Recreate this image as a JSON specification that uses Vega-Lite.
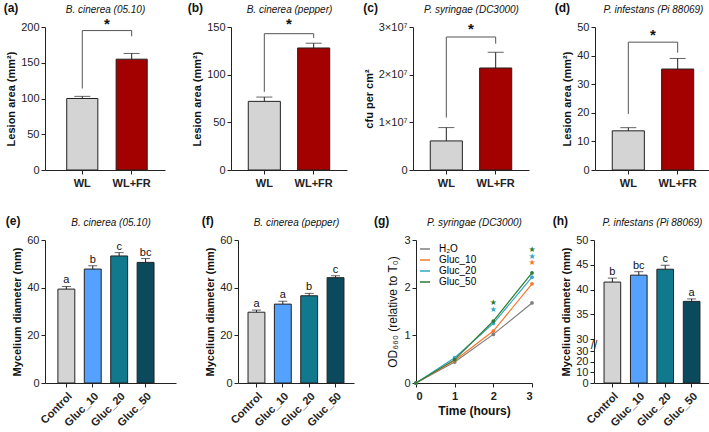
{
"$schema":"https://vega.github.io/schema/vega-lite/v6.json",
"padding":{"left":3,"top":2,"right":0,"bottom":0},
"config":{
 "font":"Liberation Sans",
 "view":{"stroke":null},
 "axis":{"grid":false,"domainColor":"#222","tickColor":"#222","labelColor":"#222","titleColor":"#111","labelFontSize":11,"titleFontSize":11,"titleFontWeight":"bold","tickSize":4,"labelPadding":2,"titlePadding":4,"labelOverlap":false},
 "axisX":{"labelFontWeight":"bold","labelPadding":3},
 "title":{"fontSize":12,"fontWeight":"bold","anchor":"start","frame":"bounds","offset":-11,"color":"#111"}
},
"resolve":{"scale":{"color":"independent"}},
"vconcat":[
{"resolve":{"scale":{"color":"independent"}},"hconcat":[
 {"width":120,"height":143,
  "title":{"text":"(a)","dx":-2},
  "resolve":{"axis":{"x":"independent","y":"independent"}},
  "data":{"values":[{"g":"WL","v":100,"hi":103},{"g":"WL+FR","v":155,"hi":163}]},
  "layer":[
   {"mark":{"type":"bar","stroke":"#222","strokeWidth":1},
    "encoding":{
     "x":{"field":"g","type":"nominal","scale":{"paddingInner":0.37,"paddingOuter":0.4,"align":0.55},"axis":{"title":null,"labelAngle":0}},
     "y":{"field":"v","type":"quantitative","scale":{"domain":[0,200],"nice":false},"axis":{"values":[0,50,100,150,200],"tickCount":20,"format":"d","title":"Lesion area (mm²)"}},
     "color":{"field":"g","type":"nominal","scale":{"domain":["WL","WL+FR"],"range":["#d4d4d4","#a30000"]},"legend":null}}},
   {"mark":{"type":"rule","color":"#222"},
    "encoding":{"x":{"field":"g","type":"nominal","axis":null},"y":{"field":"v","type":"quantitative","axis":null},"y2":{"field":"hi"}}},
   {"mark":{"type":"tick","color":"#222","size":16,"thickness":1},
    "encoding":{"x":{"field":"g","type":"nominal","axis":null},"y":{"field":"hi","type":"quantitative","axis":null}}},
   {"data":{"values":[{"g":"WL","v":114,"i":1},{"g":"WL","v":195,"i":2},{"g":"WL+FR","v":195,"i":3},{"g":"WL+FR","v":187,"i":4}]},
    "mark":{"type":"line","color":"#555","strokeWidth":1},
    "encoding":{"x":{"field":"g","type":"nominal","axis":{"orient":"top","title":"B. cinerea (05.10)","labels":false,"ticks":false,"domain":false,"titleFontStyle":"italic","titleFontWeight":"normal","titleFontSize":10,"titlePadding":13}},"y":{"field":"v","type":"quantitative","axis":null},"order":{"field":"i"}}},
   {"data":{"values":[{"g":"WL","v":204,"s":"*"}]},
    "mark":{"type":"text","fontSize":15,"fontWeight":"bold","baseline":"middle","color":"#111"},
    "encoding":{"x":{"field":"g","type":"nominal","bandPosition":1.29,"axis":null},"y":{"field":"v","type":"quantitative","axis":null},"text":{"field":"s"}}}
  ]},
 {"width":116,"height":143,
  "title":{"text":"(b)","dx":-4},
  "resolve":{"axis":{"x":"independent","y":"independent"}},
  "data":{"values":[{"g":"WL","v":72,"hi":76.5},{"g":"WL+FR","v":128,"hi":133}]},
  "layer":[
   {"mark":{"type":"bar","stroke":"#222","strokeWidth":1},
    "encoding":{
     "x":{"field":"g","type":"nominal","scale":{"paddingInner":0.35,"paddingOuter":0.35,"align":0.5},"axis":{"title":null,"labelAngle":0}},
     "y":{"field":"v","type":"quantitative","scale":{"domain":[0,150],"nice":false},"axis":{"values":[0,50,100,150],"tickCount":20,"format":"d","title":"Lesion area (mm²)"}},
     "color":{"field":"g","type":"nominal","scale":{"domain":["WL","WL+FR"],"range":["#d4d4d4","#a30000"]},"legend":null}}},
   {"mark":{"type":"rule","color":"#222"},
    "encoding":{"x":{"field":"g","type":"nominal","axis":null},"y":{"field":"v","type":"quantitative","axis":null},"y2":{"field":"hi"}}},
   {"mark":{"type":"tick","color":"#222","size":16,"thickness":1},
    "encoding":{"x":{"field":"g","type":"nominal","axis":null},"y":{"field":"hi","type":"quantitative","axis":null}}},
   {"data":{"values":[{"g":"WL","v":82,"i":1},{"g":"WL","v":143,"i":2},{"g":"WL+FR","v":143,"i":3},{"g":"WL+FR","v":138.5,"i":4}]},
    "mark":{"type":"line","color":"#555","strokeWidth":1},
    "encoding":{"x":{"field":"g","type":"nominal","axis":{"orient":"top","title":"B. cinerea (pepper)","labels":false,"ticks":false,"domain":false,"titleFontStyle":"italic","titleFontWeight":"normal","titleFontSize":10,"titlePadding":13}},"y":{"field":"v","type":"quantitative","axis":null},"order":{"field":"i"}}},
   {"data":{"values":[{"g":"WL","v":153,"s":"*"}]},
    "mark":{"type":"text","fontSize":15,"fontWeight":"bold","baseline":"middle","color":"#111"},
    "encoding":{"x":{"field":"g","type":"nominal","bandPosition":1.27,"axis":null},"y":{"field":"v","type":"quantitative","axis":null},"text":{"field":"s"}}}
  ]},
 {"width":116,"height":143,
  "title":{"text":"(c)","dx":0},
  "resolve":{"axis":{"x":"independent","y":"independent"}},
  "data":{"values":[{"g":"WL","v":6100000,"hi":8900000},{"g":"WL+FR","v":21400000,"hi":24700000}]},
  "layer":[
   {"mark":{"type":"bar","stroke":"#222","strokeWidth":1},
    "encoding":{
     "x":{"field":"g","type":"nominal","scale":{"paddingInner":0.35,"paddingOuter":0.35,"align":0.5},"axis":{"title":null,"labelAngle":0}},
     "y":{"field":"v","type":"quantitative","scale":{"domain":[0,30000000],"nice":false},"axis":{"values":[0,10000000,20000000,30000000],"tickCount":20,"labelExpr":"datum.value == 0 ? '0' : format(datum.value/10000000,'d') + '×10⁷'","title":"cfu per cm²"}},
     "color":{"field":"g","type":"nominal","scale":{"domain":["WL","WL+FR"],"range":["#d4d4d4","#a30000"]},"legend":null}}},
   {"mark":{"type":"rule","color":"#222"},
    "encoding":{"x":{"field":"g","type":"nominal","axis":null},"y":{"field":"v","type":"quantitative","axis":null},"y2":{"field":"hi"}}},
   {"mark":{"type":"tick","color":"#222","size":16,"thickness":1},
    "encoding":{"x":{"field":"g","type":"nominal","axis":null},"y":{"field":"hi","type":"quantitative","axis":null}}},
   {"data":{"values":[{"g":"WL","v":11000000,"i":1},{"g":"WL","v":27900000,"i":2},{"g":"WL+FR","v":27900000,"i":3},{"g":"WL+FR","v":26500000,"i":4}]},
    "mark":{"type":"line","color":"#555","strokeWidth":1},
    "encoding":{"x":{"field":"g","type":"nominal","axis":{"orient":"top","title":"P. syringae (DC3000)","labels":false,"ticks":false,"domain":false,"titleFontStyle":"italic","titleFontWeight":"normal","titleFontSize":10,"titlePadding":13}},"y":{"field":"v","type":"quantitative","axis":null},"order":{"field":"i"}}},
   {"data":{"values":[{"g":"WL","v":29600000,"s":"*"}]},
    "mark":{"type":"text","fontSize":15,"fontWeight":"bold","baseline":"middle","color":"#111"},
    "encoding":{"x":{"field":"g","type":"nominal","bandPosition":1.27,"axis":null},"y":{"field":"v","type":"quantitative","axis":null},"text":{"field":"s"}}}
  ]},
 {"width":116,"height":143,
  "title":{"text":"(d)","dx":-7},
  "resolve":{"axis":{"x":"independent","y":"independent"}},
  "data":{"values":[{"g":"WL","v":13.7,"hi":14.8},{"g":"WL+FR","v":35.3,"hi":39}]},
  "layer":[
   {"mark":{"type":"bar","stroke":"#222","strokeWidth":1},
    "encoding":{
     "x":{"field":"g","type":"nominal","scale":{"paddingInner":0.35,"paddingOuter":0.35,"align":0.5},"axis":{"title":null,"labelAngle":0}},
     "y":{"field":"v","type":"quantitative","scale":{"domain":[0,50],"nice":false},"axis":{"values":[0,10,20,30,40,50],"tickCount":20,"format":"d","title":"Lesion area (mm²)"}},
     "color":{"field":"g","type":"nominal","scale":{"domain":["WL","WL+FR"],"range":["#d4d4d4","#a30000"]},"legend":null}}},
   {"mark":{"type":"rule","color":"#222"},
    "encoding":{"x":{"field":"g","type":"nominal","axis":null},"y":{"field":"v","type":"quantitative","axis":null},"y2":{"field":"hi"}}},
   {"mark":{"type":"tick","color":"#222","size":16,"thickness":1},
    "encoding":{"x":{"field":"g","type":"nominal","axis":null},"y":{"field":"hi","type":"quantitative","axis":null}}},
   {"data":{"values":[{"g":"WL","v":19.6,"i":1},{"g":"WL","v":44.7,"i":2},{"g":"WL+FR","v":44.7,"i":3},{"g":"WL+FR","v":41,"i":4}]},
    "mark":{"type":"line","color":"#555","strokeWidth":1},
    "encoding":{"x":{"field":"g","type":"nominal","axis":{"orient":"top","title":"P. infestans (Pi 88069)","labels":false,"ticks":false,"domain":false,"titleFontStyle":"italic","titleFontWeight":"normal","titleFontSize":10,"titlePadding":13}},"y":{"field":"v","type":"quantitative","axis":null},"order":{"field":"i"}}},
   {"data":{"values":[{"g":"WL","v":47.2,"s":"*"}]},
    "mark":{"type":"text","fontSize":15,"fontWeight":"bold","baseline":"middle","color":"#111"},
    "encoding":{"x":{"field":"g","type":"nominal","bandPosition":1.27,"axis":null},"y":{"field":"v","type":"quantitative","axis":null},"text":{"field":"s"}}}
  ]}
 ],"spacing":66,"bounds":"flush"},
{"resolve":{"scale":{"color":"independent"}},"hconcat":[
 {"width":131,"height":143,
  "title":{"text":"(e)","dx":-6},
  "resolve":{"axis":{"x":"independent","y":"independent"}},
  "data":{"values":[{"g":"Control","v":39.4,"hi":40.5,"l":"a"},{"g":"Gluc_10","v":47.8,"hi":49.2,"l":"b"},{"g":"Gluc_20","v":53.3,"hi":54.7,"l":"c"},{"g":"Gluc_50","v":50.6,"hi":52.2,"l":"bc"}]},
  "layer":[
   {"mark":{"type":"bar","stroke":"#222","strokeWidth":1},
    "encoding":{
     "x":{"field":"g","type":"nominal","scale":{"paddingInner":0.36,"paddingOuter":0.66,"align":0.37},"axis":{"title":null,"labelAngle":-45}},
     "y":{"field":"v","type":"quantitative","scale":{"domain":[0,60],"nice":false},"axis":{"values":[0,20,40,60],"tickCount":20,"format":"d","title":"Mycelium diameter (mm)"}},
     "color":{"field":"g","type":"nominal","scale":{"domain":["Control","Gluc_10","Gluc_20","Gluc_50"],"range":["#d4d4d4","#55a1ff","#10798d","#0b4a5c"]},"legend":null}}},
   {"mark":{"type":"rule","color":"#222"},
    "encoding":{"x":{"field":"g","type":"nominal","axis":null},"y":{"field":"v","type":"quantitative","axis":null},"y2":{"field":"hi"}}},
   {"mark":{"type":"tick","color":"#222","size":9,"thickness":1},
    "encoding":{"x":{"field":"g","type":"nominal","axis":{"orient":"top","title":"B. cinerea (05.10)","labels":false,"ticks":false,"domain":false,"titleFontStyle":"italic","titleFontWeight":"normal","titleFontSize":10,"titlePadding":13}},"y":{"field":"hi","type":"quantitative","axis":null}}},
   {"mark":{"type":"text","fontSize":11,"baseline":"bottom","dy":-1,"color":"#111"},
    "encoding":{"x":{"field":"g","type":"nominal","axis":null},"y":{"field":"hi","type":"quantitative","axis":null},"text":{"field":"l"}}}
  ]},
 {"width":116,"height":143,
  "title":{"text":"(f)","dx":-3},
  "resolve":{"axis":{"x":"independent","y":"independent"}},
  "data":{"values":[{"g":"Control","v":29.7,"hi":30.6,"l":"a"},{"g":"Gluc_10","v":33.1,"hi":34.3,"l":"a"},{"g":"Gluc_20","v":36.6,"hi":37.6,"l":"b"},{"g":"Gluc_50","v":44.2,"hi":45,"l":"c"}]},
  "layer":[
   {"mark":{"type":"bar","stroke":"#222","strokeWidth":1},
    "encoding":{
     "x":{"field":"g","type":"nominal","scale":{"paddingInner":0.36,"paddingOuter":0.38,"align":0.5},"axis":{"title":null,"labelAngle":-45}},
     "y":{"field":"v","type":"quantitative","scale":{"domain":[0,60],"nice":false},"axis":{"values":[0,20,40,60],"tickCount":20,"format":"d","title":"Mycelium diameter (mm)"}},
     "color":{"field":"g","type":"nominal","scale":{"domain":["Control","Gluc_10","Gluc_20","Gluc_50"],"range":["#d4d4d4","#55a1ff","#10798d","#0b4a5c"]},"legend":null}}},
   {"mark":{"type":"rule","color":"#222"},
    "encoding":{"x":{"field":"g","type":"nominal","axis":null},"y":{"field":"v","type":"quantitative","axis":null},"y2":{"field":"hi"}}},
   {"mark":{"type":"tick","color":"#222","size":9,"thickness":1},
    "encoding":{"x":{"field":"g","type":"nominal","axis":{"orient":"top","title":"B. cinerea (pepper)","labels":false,"ticks":false,"domain":false,"titleFontStyle":"italic","titleFontWeight":"normal","titleFontSize":10,"titlePadding":13}},"y":{"field":"hi","type":"quantitative","axis":null}}},
   {"mark":{"type":"text","fontSize":11,"baseline":"bottom","dy":-1,"color":"#111"},
    "encoding":{"x":{"field":"g","type":"nominal","axis":null},"y":{"field":"hi","type":"quantitative","axis":null},"text":{"field":"l"}}}
  ]},
 {"width":116,"height":143,
  "title":{"text":"(g)","dx":-13},
  "resolve":{"axis":{"x":"independent","y":"independent"}},
  "data":{"values":[
   {"t":0,"s":"H₂O","v":0},{"t":1,"s":"H₂O","v":0.44},{"t":2,"s":"H₂O","v":1.02},{"t":3,"s":"H₂O","v":1.68},
   {"t":0,"s":"Gluc_10","v":0},{"t":1,"s":"Gluc_10","v":0.47},{"t":2,"s":"Gluc_10","v":1.09},{"t":3,"s":"Gluc_10","v":2.08},
   {"t":0,"s":"Gluc_20","v":0},{"t":1,"s":"Gluc_20","v":0.53},{"t":2,"s":"Gluc_20","v":1.25},{"t":3,"s":"Gluc_20","v":2.22},
   {"t":0,"s":"Gluc_50","v":0},{"t":1,"s":"Gluc_50","v":0.49},{"t":2,"s":"Gluc_50","v":1.3},{"t":3,"s":"Gluc_50","v":2.31}]},
  "layer":[
   {"mark":{"type":"line","strokeWidth":1.2},
    "encoding":{
     "x":{"field":"t","type":"quantitative","scale":{"domain":[0,3],"nice":false},"axis":{"orient":"top","title":"P. syringae (DC3000)","labels":false,"ticks":false,"domain":false,"titleFontStyle":"italic","titleFontWeight":"normal","titleFontSize":10,"titlePadding":13}},
     "y":{"field":"v","type":"quantitative","scale":{"domain":[0,3],"nice":false},"axis":{"values":[0,1,2,3],"tickCount":20,"format":"d","title":"OD₆₆₀ (relative to T₀)","titleFontWeight":"normal","titleFontSize":12}},
     "color":{"field":"s","type":"nominal","scale":{"domain":["H₂O","Gluc_10","Gluc_20","Gluc_50"],"range":["#7f7f7f","#f7782a","#33a8c6","#2e7b32"]},"legend":{"orient":"top-left","title":null,"symbolType":"stroke","symbolStrokeWidth":1.5,"symbolSize":100,"labelFontSize":10,"rowPadding":0,"offset":3,"padding":0,"labelOffset":8}}}},
   {"mark":{"type":"point","filled":true,"size":14,"opacity":1},
    "encoding":{"x":{"field":"t","type":"quantitative","axis":{"values":[0,1,2,3],"tickCount":20,"title":"Time (hours)","titleFontSize":12,"format":"d","labelAngle":0}},"y":{"field":"v","type":"quantitative","axis":null},"color":{"field":"s","type":"nominal"}}},
   {"data":{"values":[{"t":2,"v":1.67,"s":"Gluc_50"},{"t":2,"v":1.54,"s":"Gluc_20"},{"t":3,"v":2.79,"s":"Gluc_50"},{"t":3,"v":2.65,"s":"Gluc_20"},{"t":3,"v":2.51,"s":"Gluc_10"}]},
    "mark":{"type":"text","text":"★","font":"DejaVu Sans","fontSize":8,"baseline":"middle"},
    "encoding":{"x":{"field":"t","type":"quantitative","axis":null},"y":{"field":"v","type":"quantitative","axis":null},"color":{"field":"s","type":"nominal"}}}
  ]},
 {"width":116,"height":143,
  "title":{"text":"(h)","dx":-8},
  "resolve":{"axis":{"x":"independent","y":"independent"}},
  "data":{"values":[{"g":"Control","v":41.5,"hi":42.3,"l":"b"},{"g":"Gluc_10","v":42.9,"hi":43.6,"l":"bc"},{"g":"Gluc_20","v":44.1,"hi":44.9,"l":"c"},{"g":"Gluc_50","v":37.6,"hi":38.1,"l":"a"}]},
  "layer":[
   {"mark":{"type":"bar","stroke":"#222","strokeWidth":1},
    "encoding":{
     "x":{"field":"g","type":"nominal","scale":{"paddingInner":0.37,"paddingOuter":0.38,"align":0.5},"axis":{"title":null,"labelAngle":-45}},
     "y":{"field":"v","type":"quantitative","scale":{"domain":[0,30,30.001,50],"range":[143,111,99,0],"nice":false},"axis":{"values":[0,10,20,30,30.001,35,40,45,50],"tickCount":20,"labelExpr":"round(datum.value)","title":"Mycelium diameter (mm)"}},
     "color":{"field":"g","type":"nominal","scale":{"domain":["Control","Gluc_10","Gluc_20","Gluc_50"],"range":["#d4d4d4","#55a1ff","#10798d","#0b4a5c"]},"legend":null}}},
   {"mark":{"type":"rule","color":"#222"},
    "encoding":{"x":{"field":"g","type":"nominal","axis":null},"y":{"field":"v","type":"quantitative","axis":null},"y2":{"field":"hi"}}},
   {"mark":{"type":"tick","color":"#222","size":9,"thickness":1},
    "encoding":{"x":{"field":"g","type":"nominal","axis":{"orient":"top","title":"P. infestans (Pi 88069)","labels":false,"ticks":false,"domain":false,"titleFontStyle":"italic","titleFontWeight":"normal","titleFontSize":10,"titlePadding":13}},"y":{"field":"hi","type":"quantitative","axis":null}}},
   {"mark":{"type":"text","fontSize":11,"baseline":"bottom","dy":-1,"color":"#111"},
    "encoding":{"x":{"field":"g","type":"nominal","axis":null},"y":{"field":"hi","type":"quantitative","axis":null},"text":{"field":"l"}}},
   {"data":{"values":[{"g":"Control","v":30.0005,"s":"//"}]},
    "mark":{"type":"text","fontSize":12,"baseline":"middle","align":"center","color":"#222"},
    "encoding":{"x":{"field":"g","type":"nominal","bandPosition":-0.6,"axis":null},"y":{"field":"v","type":"quantitative","axis":null},"text":{"field":"s"}}}
  ]}
 ],"spacing":62,"bounds":"flush"}
],"spacing":27}
